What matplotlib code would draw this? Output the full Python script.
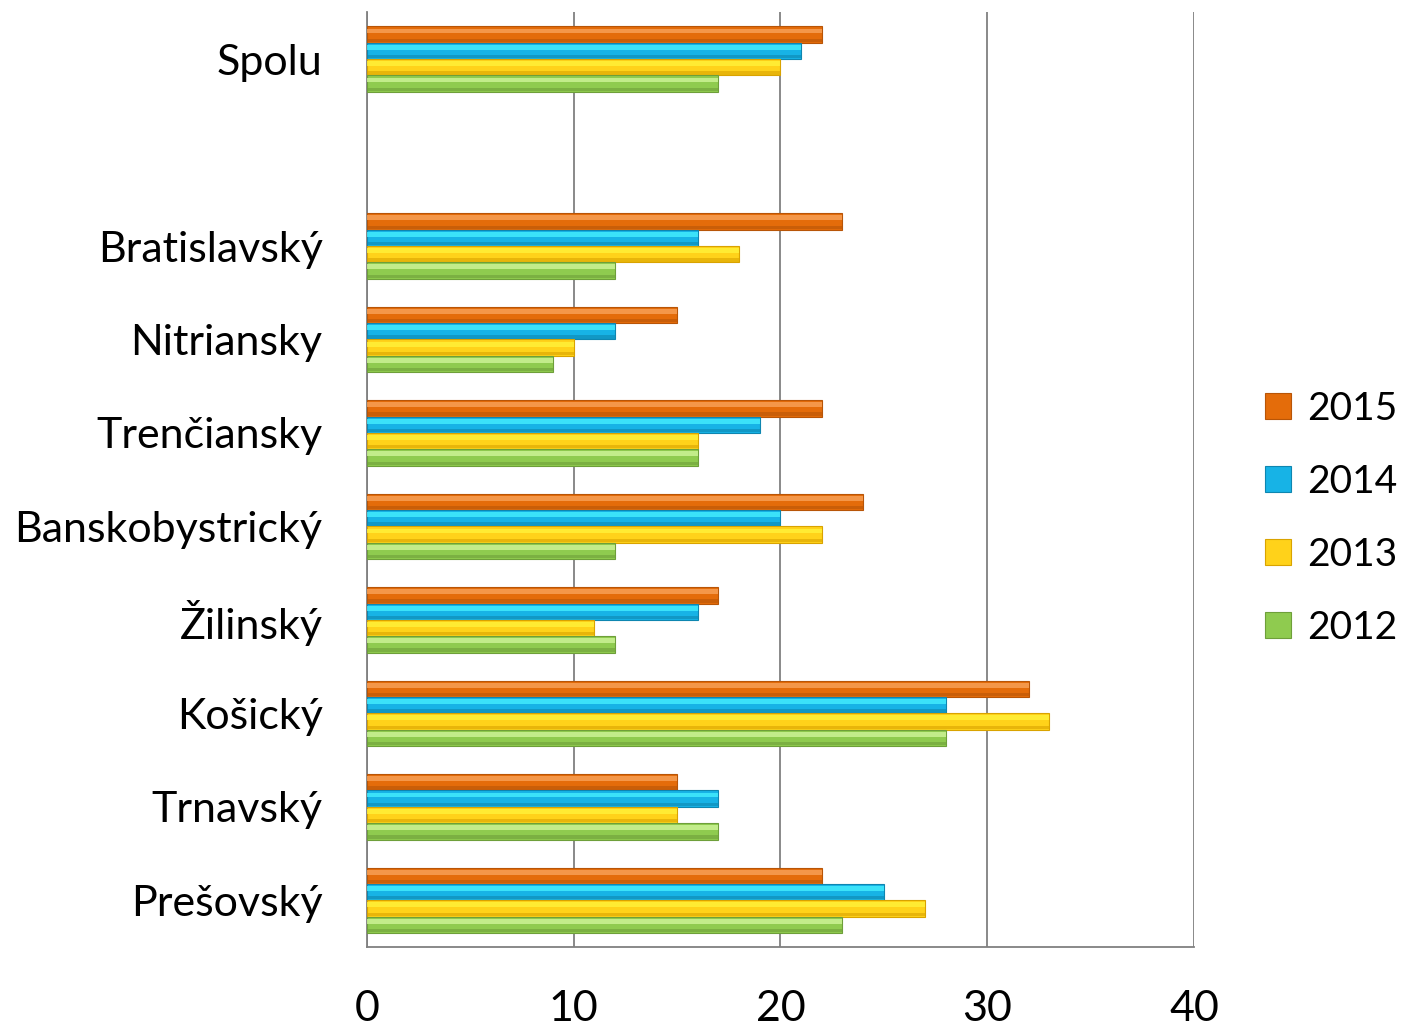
import numpy as np
import matplotlib.pyplot as plt
from matplotlib.patches import Patch

plt.rcParams['font.family'] = ['Lato', 'DejaVu Sans']

regions = ['Spolu', '', 'Bratislavský', 'Nitriansky', 'Trenčiansky', 'Banskobystrický',
           'Žilinský', 'Košický', 'Trnavský', 'Prešovský']
years = ['2015', '2014', '2013', '2012']
v2015 = [22, np.nan, 23, 15, 22, 24, 17, 32, 15, 22]
v2014 = [21, np.nan, 16, 12, 19, 20, 16, 28, 17, 25]
v2013 = [20, np.nan, 18, 10, 16, 22, 11, 33, 15, 27]
v2012 = [17, np.nan, 12, 9, 16, 12, 12, 28, 17, 23]
series = [v2015, v2014, v2013, v2012]

# main, highlight, shade
colors = [('#E46C0A', '#F9A35A', '#B85507'),
          ('#17B3E6', '#45EEFF', '#0E86B0'),
          ('#FFD21A', '#FFF23A', '#D9A300'),
          ('#8FCB4F', '#CFF59A', '#6E9F3A')]

fig = plt.figure(figsize=(14.07, 10.30), dpi=100)
ax = fig.add_axes([0.2608, 0.0806, 0.5878, 0.9074])

y = np.arange(len(regions))
h = 0.175
offsets = [-1.5 * h, -0.5 * h, 0.5 * h, 1.5 * h]
for vals, off, (c, hi, sh) in zip(series, offsets, colors):
    vals = np.array(vals, dtype=float)
    ax.barh(y + off, vals, height=h, color=c, edgecolor=sh, linewidth=0.8, zorder=3)
    ax.barh(y + off - h * 0.22, vals, height=h * 0.3, color=hi, linewidth=0, zorder=4, alpha=0.8)
    ax.barh(y + off + h * 0.35, vals, height=h * 0.2, color=sh, linewidth=0, zorder=4, alpha=0.6)

ax.set_xlim(0, 40)
ax.set_ylim(len(regions) - 0.5, -0.5)
ax.set_xticks([0, 10, 20, 30, 40])
ax.set_yticks(y)
ax.set_yticklabels(regions)
ax.tick_params(axis='both', length=0, labelsize=31)
ax.tick_params(axis='y', pad=32)
ax.tick_params(axis='x', pad=31)
ax.grid(axis='x', color='#808080', linewidth=1.3, zorder=0)
for s in ['top', 'right']:
    ax.spines[s].set_visible(False)
for s in ['left', 'bottom']:
    ax.spines[s].set_color('#808080')
    ax.spines[s].set_linewidth(1.3)

handles = [Patch(facecolor=c, edgecolor=sh, linewidth=0.8) for c, hi, sh in colors]
fig.legend(handles, years, loc='center left', bbox_to_anchor=(0.899, 0.497), frameon=False,
           borderpad=0, borderaxespad=0, fontsize=28, handlelength=0.68, handleheight=0.68,
           handletextpad=0.4, labelspacing=0.95)

fig.savefig('out.png', dpi=100)
